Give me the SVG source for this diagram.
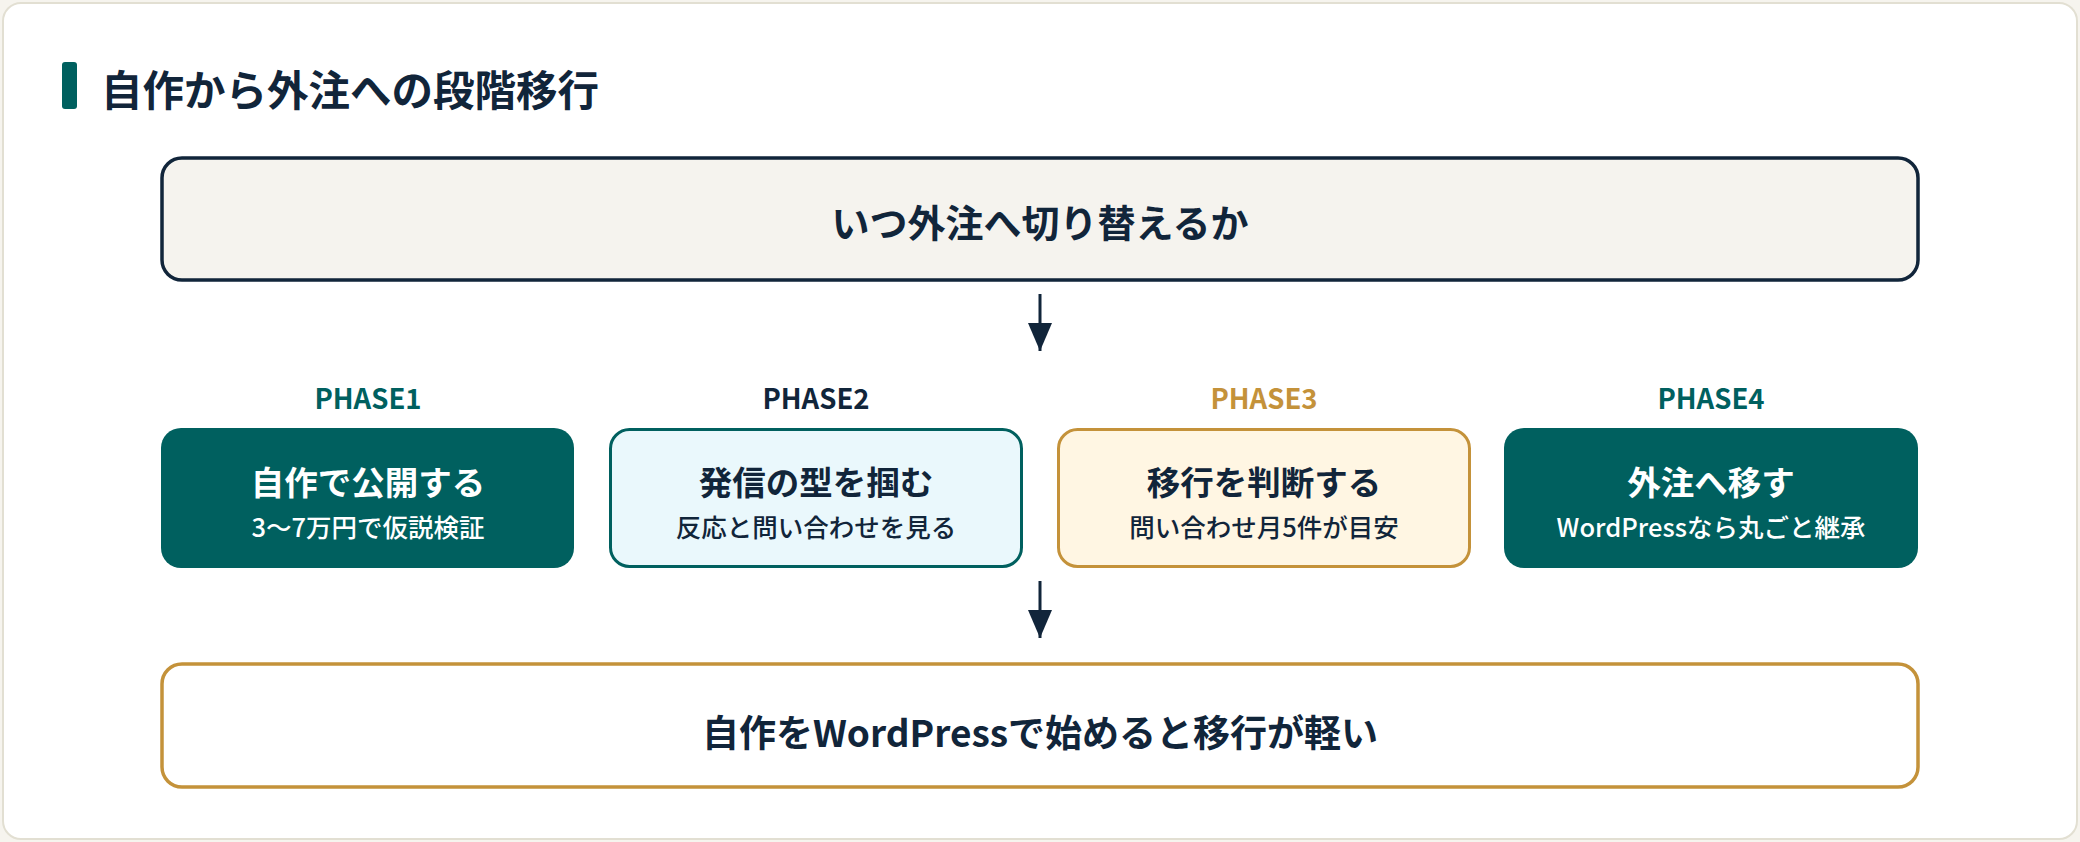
<svg xmlns="http://www.w3.org/2000/svg" width="2080" height="842" viewBox="0 0 2080 842">
<style>
text{font-family:"Noto Sans CJK JP","Noto Sans",sans-serif;font-weight:700;text-anchor:middle;dominant-baseline:central}
.navy{fill:#11253a}.teal{fill:#00605f}.gold{fill:#c4923a}.white{fill:#fff}
.sub{font-size:25.5px;font-weight:500}
.main{font-size:33.5px}
.ph{font-size:27.5px}
</style>
<defs>
<marker id="a" viewBox="0 0 28 24" refX="28" refY="12" markerWidth="28" markerHeight="24" markerUnits="userSpaceOnUse" orient="auto"><path d="M0,0L28,12L0,24z" fill="#11253a"/></marker></defs>
<rect width="2080" height="842" fill="#f6f4ee"/>
<rect x="3" y="3" width="2074" height="836" rx="18" fill="#fff" stroke="#e2dfd2" stroke-width="2"/>
<g id="title"><rect x="62" y="62" width="15" height="47" rx="3" fill="#00605f"/><text x="101" y="88" class="navy" style="font-size:41.5px;text-anchor:start">自作から外注への段階移行</text></g>
<g id="top"><rect x="162" y="158" width="1756" height="122" rx="20" fill="#f5f3ee" stroke="#11253a" stroke-width="3.5"/><text x="1040" y="220" class="navy" style="font-size:38px">いつ外注へ切り替えるか</text></g>
<g id="p1"><text x="368" y="397" class="teal ph">PHASE1</text><rect x="161" y="428" width="413" height="140" rx="20" fill="#00605f"/><text x="368" y="480" class="white main">自作で公開する</text><text x="368" y="525" class="white sub">3〜7万円で仮説検証</text></g>
<g id="p2"><text x="816" y="397" class="navy ph">PHASE2</text><rect x="610.5" y="429.5" width="411" height="137" rx="19" fill="#eaf8fc" stroke="#00605f" stroke-width="3"/><text x="816" y="480" class="navy main">発信の型を掴む</text><text x="816" y="525" class="navy sub">反応と問い合わせを見る</text></g>
<g id="p3"><text x="1264" y="397" class="gold ph">PHASE3</text><rect x="1058.5" y="429.5" width="411" height="137" rx="19" fill="#fff6e3" stroke="#c4923a" stroke-width="3"/><text x="1264" y="480" class="navy main">移行を判断する</text><text x="1264" y="525" class="navy sub">問い合わせ月5件が目安</text></g>
<g id="p4"><text x="1711" y="397" class="teal ph">PHASE4</text><rect x="1504" y="428" width="414" height="140" rx="20" fill="#00605f"/><text x="1711" y="480" class="white main">外注へ移す</text><text x="1711" y="525" class="white sub">WordPressなら丸ごと継承</text></g>
<g id="bottom"><rect x="162" y="664" width="1756" height="123" rx="20" fill="#fff" stroke="#c4923a" stroke-width="3.5"/><text x="1040" y="731" class="navy" style="font-size:37px">自作をWordPressで始めると移行が軽い</text></g>
<g id="connectors" stroke="#11253a" stroke-width="3"><line x1="1040" y1="294" x2="1040" y2="351" marker-end="url(#a)"/><line x1="1040" y1="581" x2="1040" y2="638" marker-end="url(#a)"/></g>
</svg>
